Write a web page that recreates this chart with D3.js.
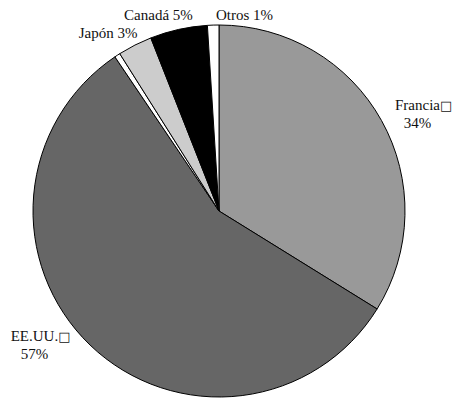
<!DOCTYPE html>
<html>
<head>
<meta charset="utf-8">
<script src="https://cdn.jsdelivr.net/npm/d3@7"></script>
<style>
  html, body { margin: 0; padding: 0; background: #fff; }
  svg { display: block; }
  text { font-family: "Liberation Serif", "Times New Roman", serif; font-size: 15px; fill: #111; }
</style>
</head>
<body>
<svg id="chart" width="456" height="398"></svg>
<script>
// Slice data, clockwise from 12 o'clock
const categories = ["Francia", "EE.UU.", "", "Japón", "Canadá", "Otros"];
const values     = [34, 57, 0.5, 3, 5, 1];
const fills      = ["#999999", "#666666", "#ffffff", "#cccccc", "#000000", "#ffffff"];
// Label text per slice (line 1, line 2); the thin unnamed slice has no label
const labelLines = [["Francia", "34%"], ["EE.UU.", "57%"], null, ["Japón 3%"], ["Canadá 5%"], ["Otros 1%"]];
const boxedLabels = ["Francia", "EE.UU."];

const width = 456, height = 398;
const cx = 219, cy = 211, radius = 186;

// Label placement: point on a ring outside the pie, plus a nudge per label
const labelRing = radius + 24;
const nudges = {
  "Francia": [15, 1],
  "EE.UU.": [-39, -21],
  "Japón": [-16, 14],
  "Canadá": [-15, 14],
  "Otros": [32, 19]
};

const svg = d3.select("#chart");
const g = svg.append("g").attr("transform", `translate(${cx},${cy})`);

const data = categories.map((c, i) => ({ name: c, value: values[i], fill: fills[i], lines: labelLines[i] }));

const pie = d3.pie().sort(null).value(d => d.value);
const arcs = pie(data);

const arc = d3.arc().innerRadius(0).outerRadius(radius);
const ringArc = d3.arc().innerRadius(labelRing).outerRadius(labelRing);

g.selectAll("path.slice")
  .data(arcs)
  .join("path")
  .attr("class", "slice")
  .attr("d", arc)
  .attr("fill", d => d.data.fill)
  .attr("stroke", "#000")
  .attr("stroke-width", 1)
  .attr("stroke-linejoin", "round");

const labels = g.selectAll("g.label")
  .data(arcs.filter(d => d.data.lines))
  .join("g")
  .attr("class", "label")
  .attr("transform", d => {
    const [x, y] = ringArc.centroid(d);
    const n = nudges[d.data.name] || [0, 0];
    return `translate(${x + n[0]},${y + n[1]})`;
  });

labels.each(function(d) {
  const sel = d3.select(this);
  d.data.lines.forEach((line, i) => {
    const t = sel.append("text")
      .attr("x", 0)
      .attr("y", i * 18)
      .attr("text-anchor", "middle")
      .text(line);
    if (i === 0 && boxedLabels.includes(d.data.name)) {
      const w = t.node().getComputedTextLength();
      sel.append("text")
        .attr("x", w / 2)
        .attr("y", 0)
        .attr("text-anchor", "start")
        .style("font-family", "'DejaVu Sans', sans-serif")
        .style("font-size", "13px")
        .text("□");
    }
  });
});
</script>
</body>
</html>
